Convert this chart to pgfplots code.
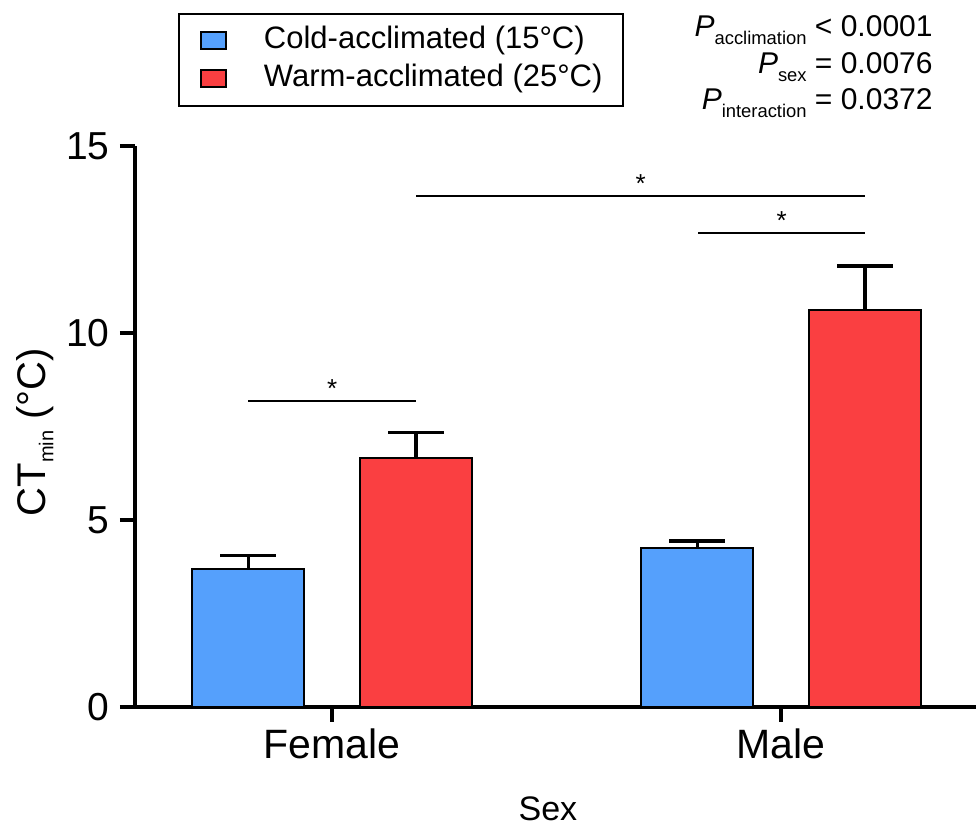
\documentclass[border=0pt]{standalone}
\usepackage{fontspec}
\setmainfont{Liberation Sans}
\usepackage{pgfplots}
\pgfplotsset{compat=1.18}
\definecolor{cblue}{RGB}{85,160,252}
\definecolor{cred}{RGB}{250,63,65}
\begin{document}
\begin{tikzpicture}
\path[use as bounding box] (-67.5pt,-61pt) rectangle (420.5pt,353.5pt);
\begin{axis}[
  at={(0,0)}, anchor=south west,
  scale only axis, width=420.5pt, height=280.5pt,
  xmin=0.561, xmax=2.434, ymin=0, ymax=15,
  axis lines*=left,
  axis line style={line width=2pt, black},
  xtick={1,2}, xticklabels={Female,Male},
  ytick={0,5,10,15},
  tick align=outside, major tick length=7.5pt,
  tick style={line width=2pt, black},
  /pgf/number format/assume math mode=true,
  xticklabel style={font=\fontsize{20.5}{24}\selectfont},
  yticklabel style={font=\fontsize{19.5}{23}\selectfont, inner sep=0pt, xshift=-5pt},
  xlabel={Sex},
  xlabel style={font=\fontsize{17}{20}\selectfont, at={(axis description cs:0.491,-0.203)}, anchor=base},
  ylabel={CT\raisebox{-4pt}{\fontsize{10}{10}\selectfont min} (°C)},
  ylabel style={font=\fontsize{20}{24}\selectfont, at={(axis description cs:-0.119,0.49)}, anchor=center},
  legend style={at={(axis description cs:0.0511,1.2371)}, anchor=north west,
    draw=black, line width=1pt, inner xsep=10.5pt, inner ysep=6pt,
    font=\fontsize{15.5}{18}\selectfont, column sep=18.5pt, row sep=4pt,
    nodes={inner sep=0pt, text height=11.5pt, text depth=3.5pt}},
  legend cell align=left,
  legend image code/.code={\draw[#1, line width=1pt] (0pt,-4.25pt) rectangle (12.5pt,4.25pt);},
]
\addplot[ybar, bar shift=0pt, bar width=0.25, fill=cblue, draw=black, line width=1.1pt,
  error bars/.cd, y dir=plus, y explicit,
  error bar style={line width=1.6pt, black},
  error mark options={rotate=90, mark size=14pt, line width=1.6pt, black}]
  coordinates {(0.813,3.69) +- (0,0.35) (1.813,4.25) +- (0,0.19)};
\addlegendentry{Cold-acclimated (15°C)}
\addplot[ybar, bar shift=0pt, bar width=0.25, fill=cred, draw=black, line width=1.1pt,
  error bars/.cd, y dir=plus, y explicit,
  error bar style={line width=1.6pt, black},
  error mark options={rotate=90, mark size=14pt, line width=1.6pt, black}]
  coordinates {(1.187,6.66) +- (0,0.67) (2.187,10.61) +- (0,1.18)};
\addlegendentry{Warm-acclimated (25°C)}
\addplot[forget plot, black, line width=1pt] coordinates {(0.813,8.18) (1.187,8.18)};
\addplot[forget plot, black, line width=1.2pt] coordinates {(1.187,13.66) (2.187,13.66)};
\addplot[forget plot, black, line width=0.8pt] coordinates {(1.815,12.67) (2.187,12.67)};
\node[anchor=base, yshift=2pt, font=\fontsize{13}{13}\selectfont] at (axis cs:1,8.18) {*};
\node[anchor=base, yshift=2pt, font=\fontsize{13}{13}\selectfont] at (axis cs:1.687,13.66) {*};
\node[anchor=base, yshift=2pt, font=\fontsize{13}{13}\selectfont] at (axis cs:2.001,12.67) {*};
\end{axis}
\begin{scope}[every node/.style={anchor=base east, inner sep=0pt, font=\fontsize{15}{17}\selectfont}]
\node at (399pt,335pt) {{\itshape P}\raisebox{-4pt}{\fontsize{9.2}{9}\selectfont acclimation} < 0.0001};
\node at (399pt,316.75pt) {{\itshape P}\raisebox{-4pt}{\fontsize{9.2}{9}\selectfont sex} = 0.0076};
\node at (399pt,298.5pt) {{\itshape P}\raisebox{-4pt}{\fontsize{9.2}{9}\selectfont interaction} = 0.0372};
\end{scope}
\end{tikzpicture}
\end{document}
